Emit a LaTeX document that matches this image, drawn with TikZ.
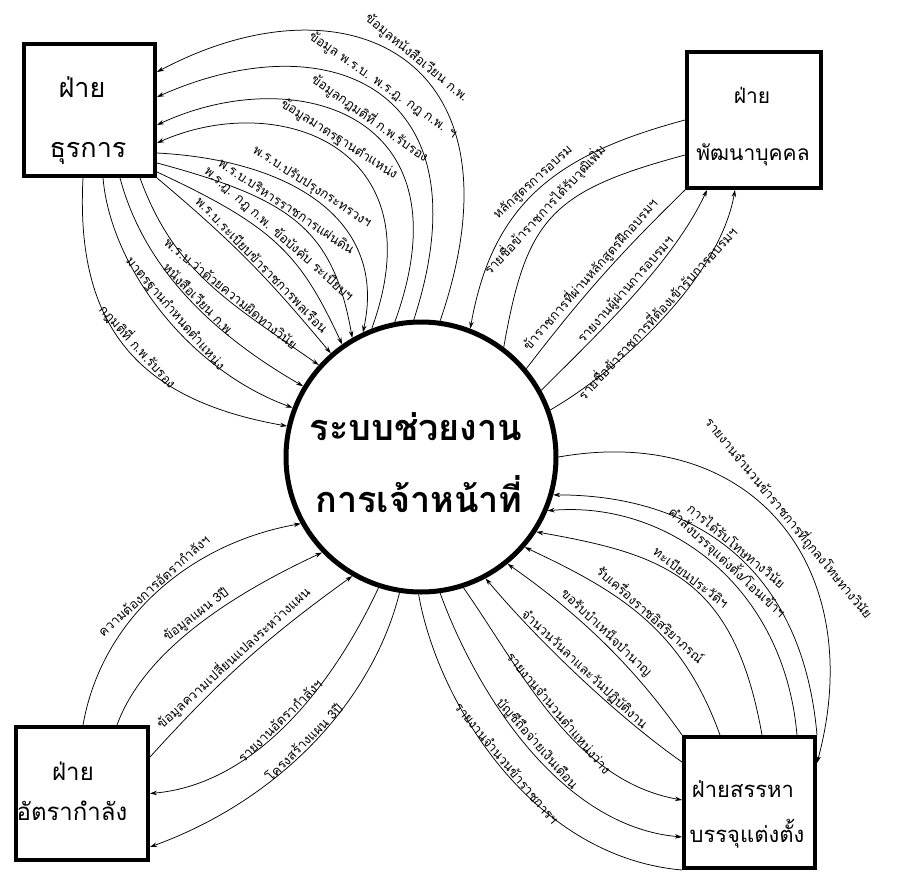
\documentclass[tikz,border=0pt]{standalone}
\usepackage{fontspec}
\newfontfamily\thai[Script=Thai]{Loma}
\usetikzlibrary{arrows.meta}
\newcommand\lbfont{\thai\fontsize{13}{15}\selectfont}
\newcommand\pfont{\thai\fontsize{21}{24}\selectfont}
\newcommand\sfont{\thai\fontsize{22}{25}\selectfont}
\newcommand\afont{\thai\fontsize{24}{27}\selectfont}
\newcommand\tfont{\thai\fontsize{27}{30}\selectfont}
\newcommand\cfont{\thai\bfseries\fontsize{36}{40}\selectfont}
\begin{document}
\begin{tikzpicture}[x=1pt,y=1pt,
  conn/.style={line width=0.75pt},
  flow/.style={conn,-{Stealth[length=7pt,width=4.5pt]}},
  lab/.style={font=\lbfont, sloped, above, inner sep=1.5pt},
  box/.style={draw, line width=4pt, inner sep=0pt},
  bt/.style={anchor=base},
]
\fill[white] (0,0) rectangle (898,-873);
\useasboundingbox (0,0) rectangle (898,-873);

% central process
\node[draw, circle, line width=5pt, minimum size=270pt, inner sep=0pt] (C) at (421,-457) {};
\node[bt, font=\cfont] (c1) at (416,-440) {ระบบช่วยงาน};
\node[bt, font=\cfont] (c2) at (419,-512) {การเจ้าหน้าที่};

% external entities
\node[box, minimum width=131pt, minimum height=132pt] (T) at (89.5,-110) {};
\node[bt, font=\tfont] (t1) at (82,-97) {ฝ่าย};
\node[bt, font=\tfont] (t2) at (88,-157) {ธุรการ};

\node[box, minimum width=134pt, minimum height=136pt] (P) at (754,-120) {};
\node[bt, font=\pfont] (p1) at (752,-103) {ฝ่าย};
\node[bt, font=\pfont] (p2) at (753,-160) {พัฒนาบุคคล};

\node[box, minimum width=131pt, minimum height=131pt] (S) at (749.5,-802.5) {};
\node[bt, font=\sfont] (s1) at (743,-797) {ฝ่ายสรรหา};
\node[bt, font=\sfont] (s2) at (747,-842) {บรรจุแต่งตั้ง};

\node[box, minimum width=132pt, minimum height=133pt] (A) at (82,-793.5) {};
\node[bt, font=\afont] (a1) at (73,-780) {ฝ่าย};
\node[bt, font=\afont] (a2) at (72,-820) {อัตรากำลัง};

% ---- ธุรการ : incoming
\draw[flow] (C.82) to[out=71,in=28,out distance=278pt,in distance=216pt]
  node[lab,pos=0.48]{ข้อมูลหนังสือเวียน ก.พ.} ([yshift=38pt]T.east);
\draw[flow] (C.93) to[out=72,in=24,out distance=244pt,in distance=187pt]
  node[lab,pos=0.5]{ข้อมูล พ.ร.บ. พ.ร.ฎ. กฎ ก.พ. ฯ} ([yshift=13pt]T.east);
\draw[flow] (C.101) to[out=70,in=25,out distance=226pt,in distance=148pt]
  node[lab,pos=0.47]{ข้อมูลกฎมติที่ ก.พ.รับรอง} ([yshift=-15pt]T.east);
\draw[flow] (C.111) to[out=70,in=24,out distance=195pt,in distance=131pt]
  node[lab,pos=0.5]{ข้อมูลมาตรฐานตำแหน่ง} ([yshift=-33pt]T.east);
% ---- ธุรการ : outgoing
\draw[flow] ([yshift=-43pt]T.east) to[out=-3,in=77.5,out distance=133pt,in distance=116pt]
  node[lab,pos=0.45]{พ.ร.บ.ปรับปรุงกระทรวงฯ} (C.115);
\draw[flow] ([yshift=-53pt]T.east) to[out=-15,in=100,out distance=140pt,in distance=110pt]
  node[lab,pos=0.42]{พ.ร.บ.บริหารราชการแผ่นดิน} (C.120);
\draw[flow] ([yshift=-62pt]T.east) to[out=-25,in=115,out distance=130pt,in distance=100pt]
  node[lab,pos=0.47]{พ.ร.ฎ. กฎ ก.พ. ข้อบังคับ ระเบียบฯ} (C.125);
\draw[flow] (T.south east) to[out=-40,in=130,out distance=110pt,in distance=90pt]
  node[lab,pos=0.52]{พ.ร.บ.ระเบียบข้าราชการพลเรือน} (C.131);
\draw[flow] ([xshift=50.5pt]T.south) to[out=-70,in=145,out distance=100pt,in distance=110pt]
  node[lab,pos=0.6]{พ.ร.บ.ว่าด้วยความผิดทางวินัย} (C.138);
\draw[flow] ([xshift=30.5pt]T.south) to[out=-75,in=150,out distance=90pt,in distance=110pt]
  node[lab,pos=0.55]{หนังสือเวียน ก.พ.} (C.149);
\draw[flow] ([xshift=13.5pt]T.south) to[out=-85,in=160,out distance=90pt,in distance=110pt]
  node[lab,pos=0.53]{มาตรฐานกำหนดตำแหน่ง} (C.159);
\draw[flow] ([xshift=-6.5pt]T.south) to[out=-93,in=170,out distance=150pt,in distance=150pt]
  node[lab,pos=0.52]{กฎมติที่ ก.พ.รับรอง} (C.167);

% ---- พัฒนาบุคคล
\draw[flow] (P.west) to[out=195,in=80,out distance=130pt,in distance=130pt]
  node[lab,pos=0.5]{หลักสูตรการอบรม} (C.69);
\draw[conn] ([yshift=-35pt]P.west) to[out=195,in=80,out distance=140pt,in distance=130pt]
  node[lab,pos=0.5]{รายชื่อข้าราชการได้รับวุฒิเพิ่ม} (C.53);
\draw[conn] (C.40) to[bend left=4]
  node[lab,pos=0.47]{ข้าราชการที่ผ่านหลักสูตรฝึกอบรมฯ} (P.south west);
\draw[flow] (C.29) to[out=45,in=-115,out distance=80pt,in distance=80pt]
  node[lab,pos=0.5]{รายงานผู้ผ่านการอบรมฯ} ([xshift=-47pt]P.south);
\draw[flow] (C.20) to[out=30,in=-100,out distance=80pt,in distance=90pt]
  node[lab,pos=0.5]{รายชื่อข้าราชการที่ต้องเข้ารับการอบรมฯ} ([xshift=-19pt]P.south);

% ---- สรรหาบรรจุแต่งตั้ง
\draw[flow] (C.0) to[out=10,in=75,out distance=200pt,in distance=200pt]
  node[lab,pos=0.5]{รายงานจำนวนข้าราชการที่ถูกลงโทษทางวินัย} ([yshift=39.5pt]S.east);
\draw[flow] (S.north east) to[out=95,in=0,out distance=170pt,in distance=140pt]
  node[lab,pos=0.5]{การได้รับโทษทางวินัย} (C.-16);
\draw[flow] ([xshift=47.5pt]S.north) to[out=95,in=5,out distance=150pt,in distance=120pt]
  node[lab,pos=0.47]{คำสั่งบรรจุแต่งตั้ง/โอนเข้าฯ} (C.-23);
\draw[flow] ([xshift=12.5pt]S.north) to[out=100,in=-10,out distance=160pt,in distance=130pt]
  node[lab,pos=0.5]{ทะเบียนประวัติฯ} (C.-33);
\draw[flow] ([xshift=-29.5pt]S.north) to[out=110,in=-25,out distance=110pt,in distance=110pt]
  node[lab,pos=0.5]{รับเครื่องราชอิสริยาภรณ์} (C.-41);
\draw[flow] (S.north west) to[out=125,in=-35,out distance=90pt,in distance=80pt]
  node[lab,pos=0.5]{ขอรับบำเหน็จบำนาญ} (C.-51);
\draw[flow] ([yshift=40.5pt]S.west) to[out=145,in=-50,out distance=80pt,in distance=80pt]
  node[lab,pos=0.5]{จำนวนวันลาและวันปฏิบัติงาน} (C.-62);
\draw[flow] (C.-72) to[out=-55,in=170,out distance=100pt,in distance=110pt]
  node[lab,pos=0.5]{รายงานจำนวนตำแหน่งว่าง} ([yshift=2.5pt]S.west);
\draw[flow] (C.-82) to[out=-70,in=175,out distance=110pt,in distance=120pt]
  node[lab,pos=0.5]{บัญชีถือจ่ายเงินเดือน} ([yshift=-34.5pt]S.west);
\draw[conn] (C.-91) to[out=-80,in=175,out distance=110pt,in distance=150pt]
  node[lab,pos=0.5]{รายงานจำนวนข้าราชการฯ} (S.south west);

% ---- อัตรากำลัง
\draw[flow] ([xshift=1pt]A.north) to[out=80,in=190,out distance=110pt,in distance=110pt]
  node[lab,pos=0.5]{ความต้องการอัตรากำลังฯ} (C.209);
\draw[flow] ([xshift=35pt]A.north) to[out=70,in=205,out distance=85pt,in distance=85pt]
  node[lab,pos=0.5]{ข้อมูลแผน 3ปี} (C.224);
\draw[flow] ([yshift=36.5pt]A.east) to[bend left=6]
  node[lab,pos=0.47]{ข้อมูลความเปลี่ยนแปลงระหว่างแผน} (C.240);
\draw[flow] (C.-108) to[out=-115,in=5,out distance=100pt,in distance=110pt]
  node[lab,pos=0.52]{รายงานอัตรากำลังฯ} (A.east);
\draw[flow] (C.-99) to[out=-104,in=20,out distance=110pt,in distance=140pt]
  node[lab,pos=0.52]{โครงสร้างแผน 3ปี} ([yshift=-53.5pt]A.east);
\end{tikzpicture}
\end{document}
